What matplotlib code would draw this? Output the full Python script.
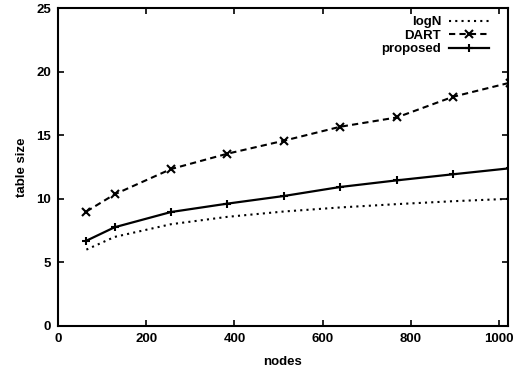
import matplotlib
matplotlib.use("Agg")
import matplotlib.pyplot as plt

nodes = [64, 128, 256, 384, 512, 640, 768, 896, 1024]
logN = [6.0, 7.0, 8.0, 8.58, 9.0, 9.32, 9.58, 9.81, 10.0]
dart = [9.0, 10.35, 12.34, 13.55, 14.57, 15.67, 16.4, 18.03, 19.13]
proposed = [6.7, 7.76, 8.96, 9.62, 10.22, 10.93, 11.45, 11.93, 12.4]

plt.rcParams['font.family'] = ['Liberation Sans', 'DejaVu Sans']
plt.rcParams['font.weight'] = 'bold'

fig = plt.figure(figsize=(5.24, 3.72), dpi=100)
ax = fig.add_axes([0.111, 0.124, 0.858, 0.854])

ax.plot(nodes, logN, color='black', lw=1.5, linestyle=(0, (1, 2)), label='logN')
ax.plot(nodes, dart, color='black', lw=1.5, linestyle=(0, (3, 2)), marker='x',
        markersize=5.5, markeredgewidth=1.5, label='DART')
ax.plot(nodes, proposed, color='black', lw=1.6, marker='+',
        markersize=6, markeredgewidth=1.5, label='proposed')

ax.set_xlim(0, 1020)
ax.set_ylim(0, 25)
ax.set_xticks([0, 200, 400, 600, 800, 1000])
ax.set_yticks([0, 5, 10, 15, 20, 25])
ax.tick_params(direction='in', top=True, right=True, length=4, width=1.2,
               labelsize=9.5, pad=5)
for s in ax.spines.values():
    s.set_linewidth(1.5)
ax.set_xlabel('nodes', fontsize=9.5, fontweight='bold', labelpad=8)
ax.set_ylabel('table size', fontsize=9.5, fontweight='bold', labelpad=6)

leg = ax.legend(loc='upper right', bbox_to_anchor=(0.975, 1.0), frameon=False,
                markerfirst=False, fontsize=9.5, handlelength=3.0,
                labelspacing=0.1, borderaxespad=0.2, handletextpad=0.6)
for t in leg.get_texts():
    t.set_ha('right')

fig.savefig('out.png', dpi=100)
